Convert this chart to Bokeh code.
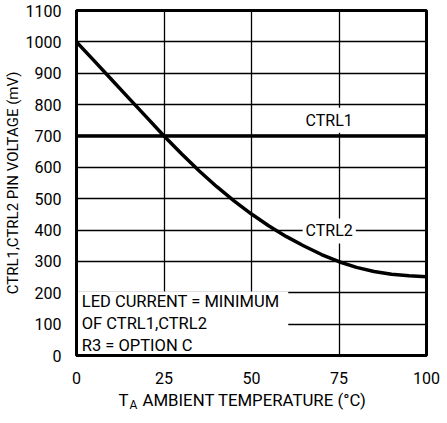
from bokeh.plotting import figure
from bokeh.models import Label, Range1d, FixedTicker
from bokeh.layouts import column
from bokeh.embed import file_html
from bokeh.resources import INLINE

# Data
temp = [0, 5, 10, 15, 20, 25, 30, 35, 40, 45, 50, 55, 60, 65, 70, 75, 80, 85, 90, 95, 100]
ctrl2 = [1000, 940, 880, 820, 760, 700, 643, 589, 539, 493, 451, 413, 379, 349, 322, 299, 281, 268, 259, 254, 251]
ctrl1_t = [0, 100]
ctrl1 = [700, 700]
x_ticks = [0, 25, 50, 75, 100]
y_ticks = [0, 100, 200, 300, 400, 500, 600, 700, 800, 900, 1000, 1100]

FONT = "Roboto"

main = figure(frame_width=350, frame_height=345, output_backend="svg", toolbar_location=None,
              x_range=Range1d(0, 100), y_range=Range1d(0, 1100),
              min_border_left=67, min_border_right=14, min_border_top=10, min_border_bottom=30)

main.outline_line_color = "black"
main.outline_line_width = 3
main.background_fill_color = "white"
main.border_fill_color = "white"

for ax in (main.xaxis[0], main.yaxis[0]):
    ax.axis_line_color = "black"
    ax.axis_line_width = 3
    ax.major_tick_line_color = None
    ax.minor_tick_line_color = None
    ax.major_label_text_font = FONT
    ax.major_label_text_font_size = "16px"
    ax.major_label_text_color = "black"

main.xaxis.ticker = FixedTicker(ticks=x_ticks)
main.yaxis.ticker = FixedTicker(ticks=y_ticks)
main.xaxis.major_label_standoff = 10
main.yaxis.major_label_standoff = 9

main.yaxis.axis_label = "CTRL1,CTRL2 PIN VOLTAGE (mV)"
main.yaxis.axis_label_text_font = FONT
main.yaxis.axis_label_text_font_size = "15px"
main.yaxis.axis_label_text_font_style = "normal"
main.yaxis.axis_label_text_color = "black"
main.yaxis.axis_label_standoff = 1

main.xgrid.grid_line_color = "black"
main.ygrid.grid_line_color = "black"
main.xgrid.grid_line_width = 1.3
main.ygrid.grid_line_width = 1.3
main.xgrid.ticker = FixedTicker(ticks=x_ticks)
main.ygrid.ticker = FixedTicker(ticks=y_ticks)

# white box behind the note in lower-left
main.quad(left=0, right=60.5, bottom=0, top=204, fill_color="white", line_color=None)

main.line(ctrl1_t, ctrl1, line_color="black", line_width=3.5)
main.line(temp, ctrl2, line_color="black", line_width=3.5)


def lab(fig, x, y, t, size="16px", align="left", baseline="middle", bg=None, units="data"):
    l = Label(x=x, y=y, text=t, text_font=FONT, text_font_size=size, text_color="black",
              text_align=align, text_baseline=baseline, x_units=units, y_units=units)
    if bg:
        l.background_fill_color = bg
        l.padding = 3
    fig.add_layout(l)


lab(main, 72.2, 750, "CTRL1", align="center", bg="white")
lab(main, 72.2, 397, "CTRL2", align="center", bg="white")

lab(main, 1.5, 172, "LED CURRENT = MINIMUM", size="16.5px")
lab(main, 1.5, 102, "OF CTRL1,CTRL2", size="16.5px")
lab(main, 1.5, 33, "R3 = OPTION C", size="16.5px")

# x-axis title strip (with subscript) below the main chart
strip = figure(width=431, height=28, output_backend="svg", toolbar_location=None,
               x_axis_type=None, y_axis_type=None, min_border=0,
               x_range=Range1d(0, 1), y_range=Range1d(0, 1))
strip.outline_line_color = None
strip.grid.visible = False
strip.background_fill_color = "white"
strip.border_fill_color = "white"

lab(strip, 118, 13, "T", size="16.8px", units="canvas")
lab(strip, 129, 18.5, "A", size="12px", units="canvas")
lab(strip, 142, 13, "AMBIENT TEMPERATURE (°C)", size="16.8px", units="canvas")

layout = column(main, strip, spacing=0)

open("out.html", "w").write(file_html(layout, INLINE))
